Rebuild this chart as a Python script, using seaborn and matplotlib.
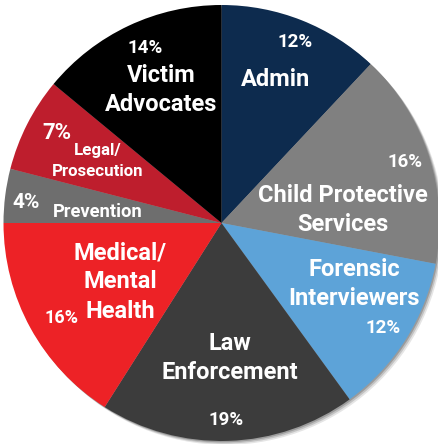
import numpy as np
import matplotlib
matplotlib.use("Agg")
import matplotlib.pyplot as plt
import seaborn as sns

sns.set_theme(style="white")
plt.rcParams["font.family"] = ["Roboto", "DejaVu Sans"]

# Verteilung der Teammitglieder (im Uhrzeigersinn ab 12 Uhr)
categories = ["Admin", "Child Protective\nServices", "Forensic\nInterviewers",
              "Law\nEnforcement", "Medical/\nMental\nHealth", "Prevention",
              "Legal/\nProsecution", "Victim\nAdvocates"]
shares = [12, 16, 12, 19, 16, 4, 7, 14]
pct_labels = [f"{v}%" for v in shares]

colors = ["#0d2b4e", "#808080", "#5da3d8", "#3c3c3c",
          "#ed2226", "#6e6e6e", "#be1e2d", "#000000"]

# Textpositionen in Pixeln (x, y von oben links) und Schriftgrößen
name_pos = [(276, 80), (343, 210), (354, 284), (230, 358),
            (120, 282), (98, 212), (98, 161), (161, 90)]
name_size = [17, 17, 17, 17, 17, 13.2, 12.2, 17]
pct_pos = [(295, 42), (405, 162), (383, 328), (226, 420),
           (61, 318), (26, 202), (57, 133), (145, 48)]
pct_size = [13.5, 13.5, 13.5, 13.5, 13, 15, 16, 13.5]

W, H = 438, 444
CX, CY, R = 221.5, 223, 218.0

fig = plt.figure(figsize=(W / 100, H / 100), dpi=100)
ax = fig.add_axes([0, 0, 1, 1])
ax.axis("off")


def px(x, y):
    return (x - CX) / R, (CY - y) / R


# leichter Schatten unten rechts
for k, a in zip([0.018, 0.012, 0.006], [0.10, 0.15, 0.2]):
    ax.add_patch(plt.Circle((k, -k), 1.0, color="black", alpha=a, lw=0, zorder=0))

ax.pie(shares, colors=colors, startangle=90, counterclock=False, radius=1.0,
       wedgeprops={"linewidth": 0, "zorder": 1})
ax.set_xlim(-CX / R, (W - CX) / R)
ax.set_ylim(-(H - CY) / R, CY / R)
ax.set_aspect("equal")

# mehrzeilige Labels zeilenweise setzen
for name, (x, y), fs in zip(categories, name_pos, name_size):
    lines = name.split("\n")
    gap = 20 if fs < 14 else 29
    y0 = y - gap * (len(lines) - 1) / 2
    for i, line in enumerate(lines):
        ax.text(*px(x, y0 + i * gap), line, ha="center", va="center",
                color="white", fontsize=fs, fontweight="bold", zorder=3)

for lab, (x, y), fs in zip(pct_labels, pct_pos, pct_size):
    ax.text(*px(x, y), lab, ha="center", va="center", color="white",
            fontsize=fs, fontweight="bold", zorder=3)

fig.savefig("out.png", dpi=100, facecolor="white")
